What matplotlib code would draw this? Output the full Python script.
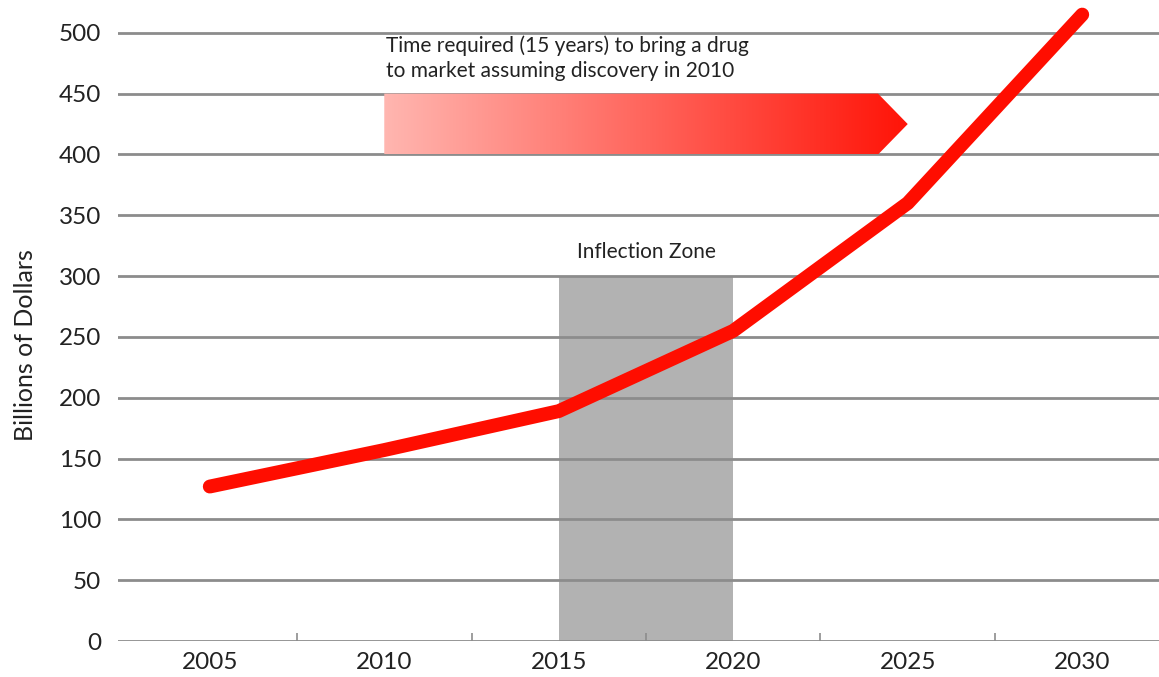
import matplotlib
matplotlib.use("Agg")
import matplotlib.pyplot as plt
import numpy as np
from matplotlib.path import Path
from matplotlib.patches import PathPatch
from matplotlib.colors import LinearSegmentedColormap

plt.rcParams['font.family'] = ['Lato', 'DejaVu Sans']

years = [2005, 2010, 2015, 2020, 2025, 2030]
values = [127, 157, 189, 255, 360, 515]
tick_labels = ['2005', '2010', '2015', '2020', '2025', '2030']
y_ticks = [0, 50, 100, 150, 200, 250, 300, 350, 400, 450, 500]

zone_start, zone_end, zone_top = 2015, 2020, 300
arrow_start, arrow_end = 2010, 2025
arrow_low, arrow_high = 400, 450

W, H = 1159, 677
fig = plt.figure(figsize=(W / 100, H / 100), dpi=100)
ax = fig.add_axes([118 / W, 36 / H, (W - 118) / W, 641 / H])

ax.set_xlim(2002.37, 2032.2)
ax.set_ylim(0, 527)

# grid lines
for yv in y_ticks:
    ax.axhline(yv, color='#8c8c8c', lw=2.0, zorder=2)

# inflection zone
ax.fill_between([zone_start, zone_end], 0, zone_top, color='#b2b2b2', lw=0, zorder=1)
ax.text((zone_start + zone_end) / 2, zone_top + 12, 'Inflection Zone', ha='center', va='bottom',
        fontsize=15, color='#222222')

# gradient arrow
tip_len = 0.85
verts = [(arrow_start, arrow_low), (arrow_end - tip_len, arrow_low), (arrow_end, (arrow_low + arrow_high) / 2),
         (arrow_end - tip_len, arrow_high), (arrow_start, arrow_high), (arrow_start, arrow_low)]
path = Path(verts, [Path.MOVETO] + [Path.LINETO] * 4 + [Path.CLOSEPOLY])
patch = PathPatch(path, facecolor='none', edgecolor='none')
ax.add_patch(patch)
cmap = LinearSegmentedColormap.from_list('g', ['#ffb6b0', '#ff1408'])
grad = np.linspace(0, 1, 512).reshape(1, -1)
im = ax.imshow(grad, cmap=cmap, aspect='auto', extent=[arrow_start, arrow_end, arrow_low, arrow_high],
               zorder=3, interpolation='bilinear')
im.set_clip_path(patch)
ax.text(arrow_start + 0.05, 498, 'Time required (15 years) to bring a drug\nto market assuming discovery in 2010',
        ha='left', va='top', fontsize=15, color='#222222', linespacing=1.3)

# main line
ax.plot(years, values, color='#ff0d00', lw=10, solid_capstyle='round', solid_joinstyle='round',
        zorder=5, clip_on=False)

# axes styling
for s in ax.spines.values():
    s.set_visible(False)
ax.set_yticks(y_ticks)
ax.set_yticklabels([str(v) for v in y_ticks])
ax.set_xticks(years)
ax.set_xticklabels(tick_labels)
ax.set_xticks([2007.5, 2012.5, 2017.5, 2022.5, 2027.5], minor=True)
ax.tick_params(axis='both', which='major', length=0, labelsize=17.5, colors='#222222')
ax.tick_params(axis='y', pad=12)
ax.tick_params(axis='x', pad=8)
ax.tick_params(axis='x', which='minor', length=6, direction='in', color='#8c8c8c', width=1.2)
ax.set_ylabel('Billions of Dollars', fontsize=18, color='#222222')
ax.yaxis.set_label_coords(-(118 - 37) / (W - 118), (641 - 345) / 641)

fig.savefig('out.png', dpi=100)
